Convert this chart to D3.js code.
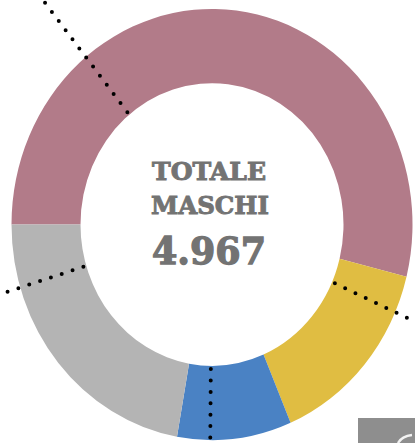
<!DOCTYPE html>
<html>
<head>
<meta charset="utf-8">
<script src="https://cdn.jsdelivr.net/npm/d3@7"></script>
<style>
  body { margin: 0; background: #fff; }
  svg { display: block; }
  .center-text { font-family: "DejaVu Serif", serif; font-weight: bold; fill: #737373; stroke: #737373; text-anchor: middle; }
</style>
</head>
<body>
<div class="chart"></div>
<script>
// Chart data
var categories = ["A", "B", "C", "D"];
var values = [2677, 730, 457, 1103];
var colors = ["#b27b89", "#e0bd42", "#4a82c4", "#b4b4b4"];
var totalLabel = ["TOTALE", "MASCHI"];
var totalValue = "4.967";
// angles (degrees, clockwise from top) of the dotted leader lines
var leaderAngles = [321, 114, 180.5, 253];

var svgWidth = 415;
var svgHeight = 443;

var cx = 212;
var cy = 224.5;
var outerR = 200.5;
var innerR = 131.5;
var squash = 1.075; // the ring is slightly taller than wide

var svg = d3.select(".chart")
    .append("svg")
    .attr("width", svgWidth)
    .attr("height", svgHeight);

// Donut
var pie = d3.pie()
    .sort(null)
    .value(function(d) { return d; })
    .startAngle(-Math.PI / 2)
    .endAngle(Math.PI * 1.5);

var arc = d3.arc()
    .innerRadius(innerR)
    .outerRadius(outerR);

var ring = svg.append("g")
    .attr("transform", `translate(${cx}, ${cy}) scale(1, ${squash})`);

ring.selectAll("path")
    .data(pie(values))
    .enter()
    .append("path")
    .attr("d", arc)
    .attr("fill", function(d, i) { return colors[i]; });

// Dotted leader lines
var toRad = Math.PI / 180;
svg.selectAll("line.leader")
    .data(leaderAngles)
    .enter()
    .append("line")
    .attr("class", "leader")
    .attr("x1", function(a) { return cx + d3.pointRadial(a * toRad, innerR + 3)[0]; })
    .attr("y1", function(a) { return cy + d3.pointRadial(a * toRad, innerR + 3)[1] * squash; })
    .attr("x2", function(a) { return cx + d3.pointRadial(a * toRad, 320)[0]; })
    .attr("y2", function(a) { return cy + d3.pointRadial(a * toRad, 320)[1] * squash; })
    .attr("stroke", "#000")
    .attr("stroke-width", 4)
    .attr("stroke-linecap", "round")
    .attr("stroke-dasharray", "0 11.4");

// Centre labels
svg.append("text")
    .attr("class", "center-text")
    .attr("x", 209)
    .attr("y", 179.5)
    .attr("font-size", 24)
    .attr("stroke-width", 0.9)
    .attr("textLength", 114)
    .attr("lengthAdjust", "spacingAndGlyphs")
    .text(totalLabel[0]);

svg.append("text")
    .attr("class", "center-text")
    .attr("x", 210)
    .attr("y", 214)
    .attr("font-size", 24)
    .attr("stroke-width", 0.9)
    .attr("textLength", 118)
    .attr("lengthAdjust", "spacingAndGlyphs")
    .text(totalLabel[1]);

svg.append("text")
    .attr("class", "center-text")
    .attr("x", 209)
    .attr("y", 263.5)
    .attr("font-size", 37.5)
    .attr("stroke-width", 1.3)
    .attr("textLength", 114)
    .attr("lengthAdjust", "spacingAndGlyphs")
    .text(totalValue);

// Grey box in the bottom-right corner
svg.append("rect")
    .attr("x", 358)
    .attr("y", 418)
    .attr("width", 60)
    .attr("height", 30)
    .attr("fill", "#8e8e8e");

svg.append("path")
    .attr("d", "M398,443 Q402,436 412,435")
    .attr("fill", "none")
    .attr("stroke", "#f2f2f2")
    .attr("stroke-width", 2.5);
</script>
</body>
</html>
